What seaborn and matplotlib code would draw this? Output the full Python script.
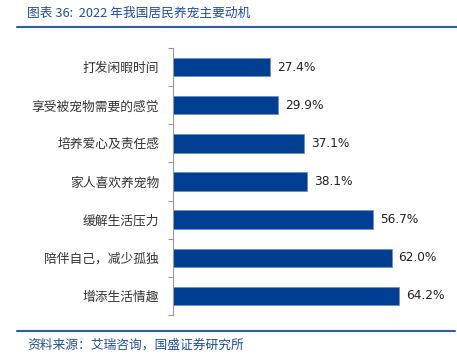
import matplotlib
matplotlib.use("Agg")
import matplotlib.pyplot as plt
import seaborn as sns
import pandas as pd
from matplotlib.lines import Line2D

categories = ["打发闲暇时间", "享受被宠物需要的感觉", "培养爱心及责任感", "家人喜欢养宠物",
              "缓解生活压力", "陪伴自己，减少孤独", "增添生活情趣"]
values = [27.4, 29.9, 37.1, 38.1, 56.7, 62.0, 64.2]
title = "图表 36:  2022 年我国居民养宠主要动机"
source = "资料来源：艾瑞咨询，国盛证券研究所"

sns.set_theme(style="white")
plt.rcParams['font.family'] = ['Noto Sans CJK SC', 'DejaVu Sans']

df = pd.DataFrame({"cat": categories, "val": values})

W, H = 457, 364
fig = plt.figure(figsize=(W / 100, H / 100), dpi=100)
ax = fig.add_axes([173 / W, 1 - 315 / H, (455 - 173) / W, (315 - 48) / H])

bar_color = "#003E92"
sns.barplot(data=df, y="cat", x="val", orient="h", color=bar_color, width=0.48,
            edgecolor="#6F8FC4", linewidth=0.6, ax=ax, saturation=1)

ax.set_xlim(0, 80)
ax.set_ylim(6.5, -0.5)
ax.set_xlabel("")
ax.set_ylabel("")
ax.set_xticks([])
for s in ["top", "right", "bottom"]:
    ax.spines[s].set_visible(False)
ax.spines["left"].set_color("#999999")
ax.spines["left"].set_linewidth(0.8)

ax.set_yticks(range(len(categories)))
ax.set_yticklabels(categories, fontsize=9.2, color="#333333")
ax.tick_params(axis="y", which="major", length=0, pad=10)
ax.set_yticks([i - 0.5 for i in range(len(categories) + 1)], minor=True)
ax.tick_params(axis="y", which="minor", length=3.5, width=0.8, color="#999999", left=True)

for i, v in enumerate(values):
    ax.text(v + 2.0, i, f"{v:.1f}%", va="center", ha="left", fontsize=8.7,
            color="#222222", family="DejaVu Sans")

line_color = "#2E5FA8"
fig.add_artist(Line2D([17 / W, 1.0], [1 - 27 / H, 1 - 27 / H], color=line_color, lw=1.5,
                      transform=fig.transFigure))
fig.add_artist(Line2D([17 / W, 455 / W], [1 - 331 / H, 1 - 331 / H], color=line_color, lw=1.5,
                      transform=fig.transFigure))

fig.text(27 / W, 1 - 13 / H, title, fontsize=9.2, color="#1F4E9A", va="center", ha="left",
         style="italic")
fig.text(27 / W, 1 - 345 / H, source, fontsize=9.2, color="#1F4E9A", va="center", ha="left",
         style="italic")

fig.savefig("out.png", dpi=100)
